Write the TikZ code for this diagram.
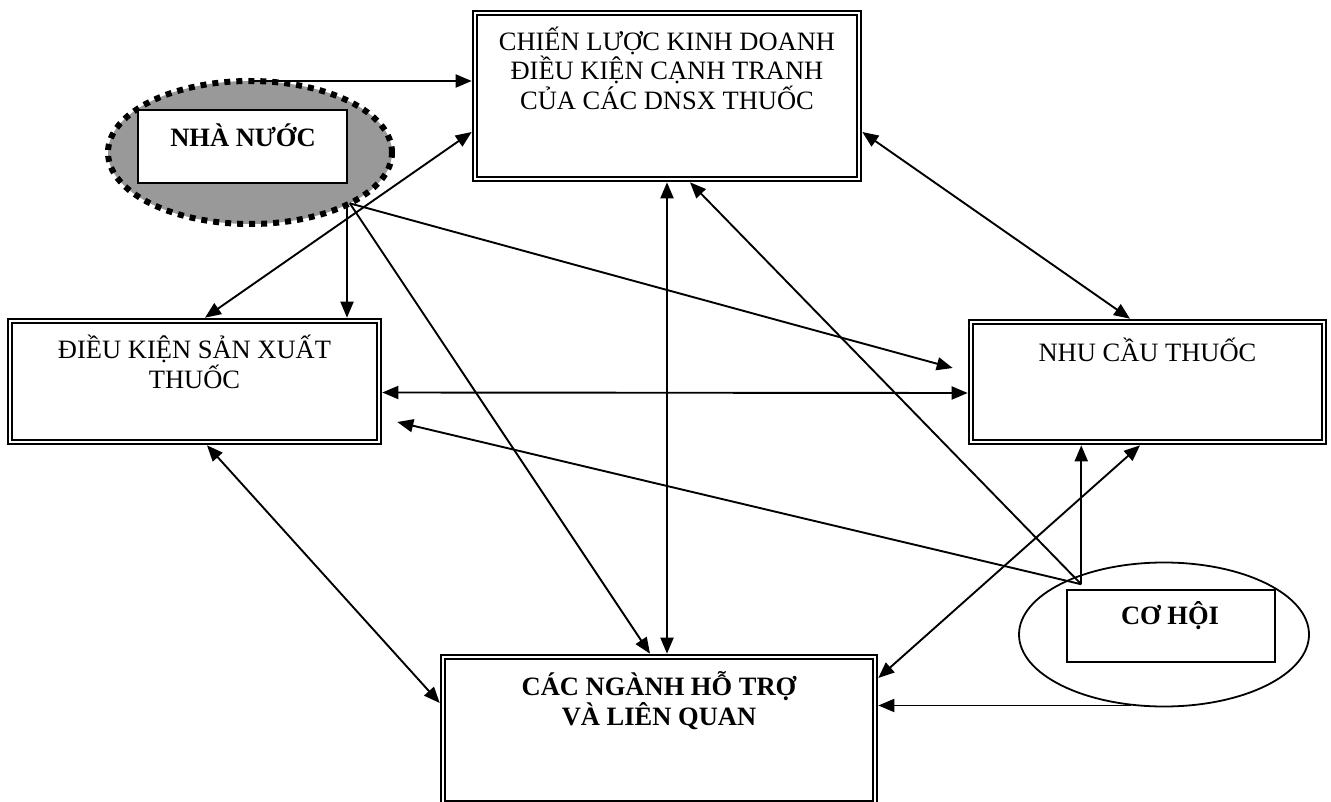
\documentclass[tikz,border=0pt]{standalone}
\usepackage{fontspec}
\setmainfont{Liberation Serif}
\usetikzlibrary{arrows.meta,shapes.geometric}
\definecolor{govgray}{RGB}{153,153,153}

\begin{document}
\begin{tikzpicture}[x=1pt,y=-1pt,>={Triangle[length=16pt,width=13pt]}]
\tikzstyle{every node}+=[inner sep=0pt]
\tikzstyle{frame}=[draw,double,line width=2.5pt,double distance=1.6pt,outer sep=3.3pt,fill=white]
\tikzstyle{boxtext}=[align=center,font=\fontsize{26.5}{29.5}\selectfont]
\tikzstyle{boldtext}=[align=center,font=\fontsize{26.5}{30}\selectfont\bfseries]
\tikzstyle{link}=[line width=1.9pt]
\useasboundingbox (0,0) rectangle (1331,802);
\node[frame,minimum width=384,minimum height=166] (strat) at (667,96) {};
\node[boxtext] (strattxt) at (667,68) {CHIẾN LƯỢC KINH DOANH\\ĐIỀU KIỆN CẠNH TRANH\\CỦA CÁC DNSX THUỐC};
\node[frame,minimum width=369,minimum height=121] (prod) at (194.5,381.5) {};
\node[boxtext] (prodtxt) at (194.5,362) {ĐIỀU KIỆN SẢN XUẤT\\THUỐC};
\node[frame,minimum width=353,minimum height=120] (dem) at (1147.5,382) {};
\node[boxtext] (demtxt) at (1147.5,350) {NHU CẦU THUỐC};
\node[frame,minimum width=432,minimum height=146] (supp) at (659,730) {};
\node[boldtext] (supptxt) at (659,700.5) {CÁC NGÀNH HỖ TRỢ\\VÀ LIÊN QUAN};
\node[ellipse,draw,fill=govgray,line width=6pt,dash pattern=on 6pt off 6pt,outer sep=0pt,minimum width=284,minimum height=143] (gov) at (250,152.5) {};
\node[draw,fill=white,line width=1.5pt,minimum width=209,minimum height=73] (govbox) at (242.5,146.5) {};
\node[boldtext] (govtxt) at (243,135) {NHÀ NƯỚC};
\node[ellipse,draw,line width=1.8pt,minimum width=290,minimum height=144] (opp) at (1164,634.5) {};
\node[draw,line width=1.5pt,minimum width=208,minimum height=72] (oppbox) at (1171,626) {};
\node[boldtext] (opptxt) at (1170,615.5) {CƠ HỘI};
\coordinate (hub) at ([xshift=15pt,yshift=5pt]oppbox.north west);
\draw[link,->] (gov.north) -- (gov.north -| strat.west);
\draw[link,<->] ([yshift=-36pt]strat.west) -- ([xshift=10.5pt]prod.north);
\draw[link,->] ([xshift=152.5pt]prod.north |- gov.-27) -- ([xshift=152.5pt]prod.north);
\draw[link,->] (gov.-27) -- ([xshift=-9pt]supp.north);
\draw[link,->] (gov.-27) -- ([xshift=-15pt,yshift=14pt]dem.west);
\draw[link,<->] ([yshift=-11pt]prod.east) -- ([yshift=-11pt]dem.west);
\draw[link,<->] ([yshift=-36pt]strat.east) -- ([xshift=-17.5pt]dem.north);
\draw[link,<->] (strat.south) -- (strat.south |- supp.north);
\draw[link,<->] ([xshift=12.5pt]prod.south) -- ([yshift=27pt]supp.west);
\draw[link,->] (hub) -- (hub |- dem.south);
\draw[link,->] (hub) -- ([xshift=23pt]strat.south);
\draw[link,->] (hub) -- ([xshift=15pt,yshift=-40.5pt]prod.east);
\draw[link,<->] ([yshift=52pt]supp.east) -- ([xshift=-7.5pt]dem.south);
\draw[link,->] (opp.245) -- (opp.245 -| supp.east);
\end{tikzpicture}
\end{document}
